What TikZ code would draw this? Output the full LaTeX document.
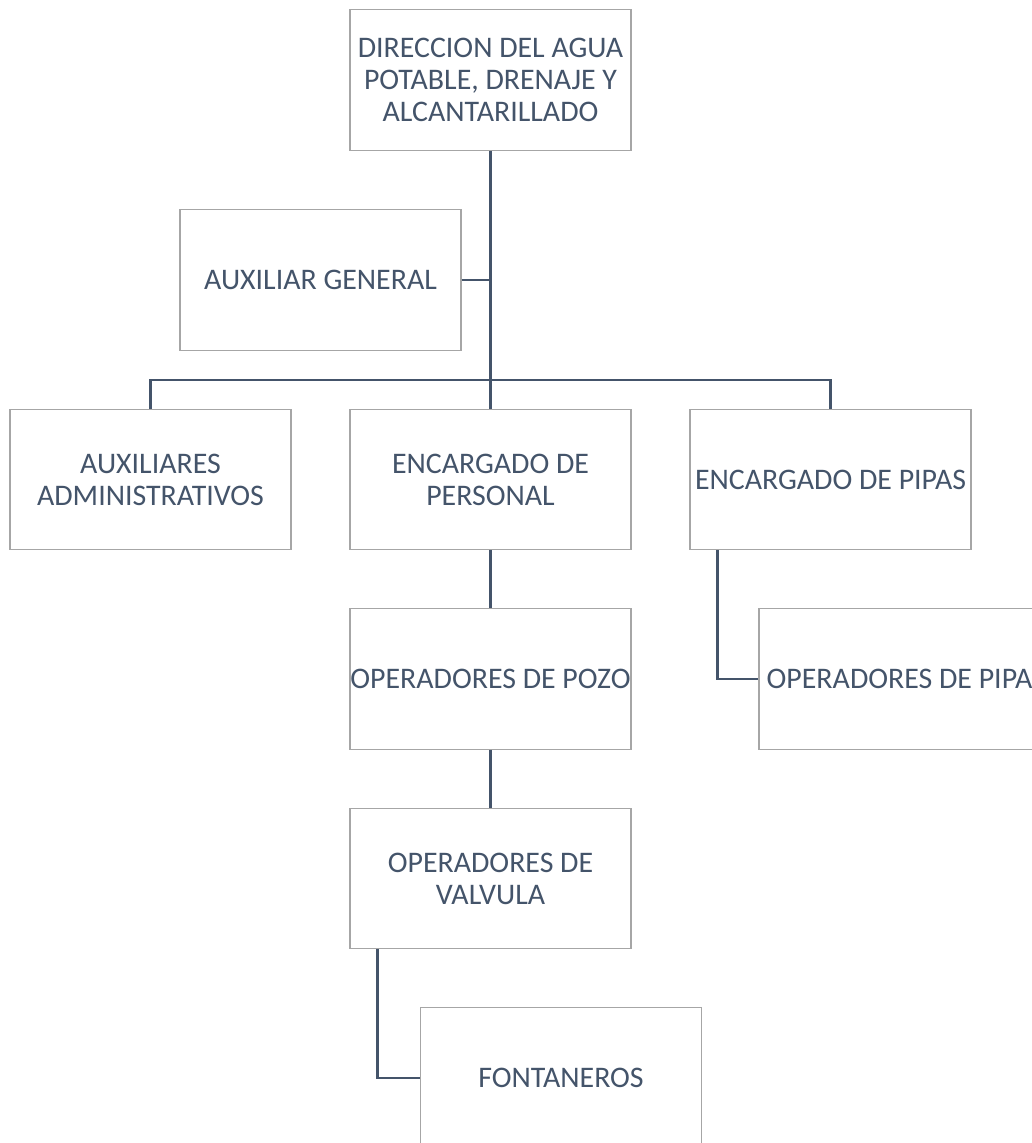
\documentclass[tikz,border=0pt]{standalone}
\usepackage{fontspec}
\setmainfont{Carlito}
\definecolor{textblue}{HTML}{44546A}
\definecolor{boxgray}{HTML}{A6A6A6}
\tikzset{
    unit/.style={draw=boxgray, line width=0.9pt, fill=white, text=textblue, align=center,
        minimum width=210.75pt, minimum height=105.5pt, inner sep=0pt,
        font=\fontsize{22.4}{24}\selectfont},
    link/.style={draw=textblue, line width=2pt}
}
\begin{document}
\begin{tikzpicture}[x=0.75pt, y=-0.75pt]
    \useasboundingbox (0,0) rectangle (1032,1143);
    \clip (0,0) rectangle (1032,1143);
    \node[unit] (dir) at (490.5,80) {DIRECCION DEL AGUA\\POTABLE, DRENAJE Y\\ALCANTARILLADO};
    \node[unit] (gen) at (320.5,280) {AUXILIAR GENERAL};
    \node[unit] (adm) at (150.5,479.5) {AUXILIARES\\ADMINISTRATIVOS};
    \node[unit] (pers) at (490.5,479.5) {ENCARGADO DE\\PERSONAL};
    \node[unit] (pipas) at (830.5,479.5) {ENCARGADO DE PIPAS};
    \node[unit] (pozo) at (490.5,679) {OPERADORES DE POZO};
    \node[unit] (opipa) at (899.5,679) {OPERADORES DE PIPA};
    \node[unit] (valv) at (490.5,878.5) {OPERADORES DE\\VALVULA};
    \node[unit] (font) at (561,1078) {FONTANEROS};
    \coordinate (bus) at (490.5,380);
    \draw[link] (dir.south) -- (pers.north);
    \draw[link] (gen.east) -- (gen.east -| dir.south);
    \draw[link] (adm.north) |- (bus -| pipas.north) -- (pipas.north);
    \foreach \a/\b in {pers/pozo, pozo/valv}
    \draw[link] (\a.south) -- (\b.north);
    \draw[link] ([xshift=21pt]pipas.south west) |- (opipa.west);
    \draw[link] ([xshift=21pt]valv.south west) |- (font.west);
\end{tikzpicture}
\end{document}
